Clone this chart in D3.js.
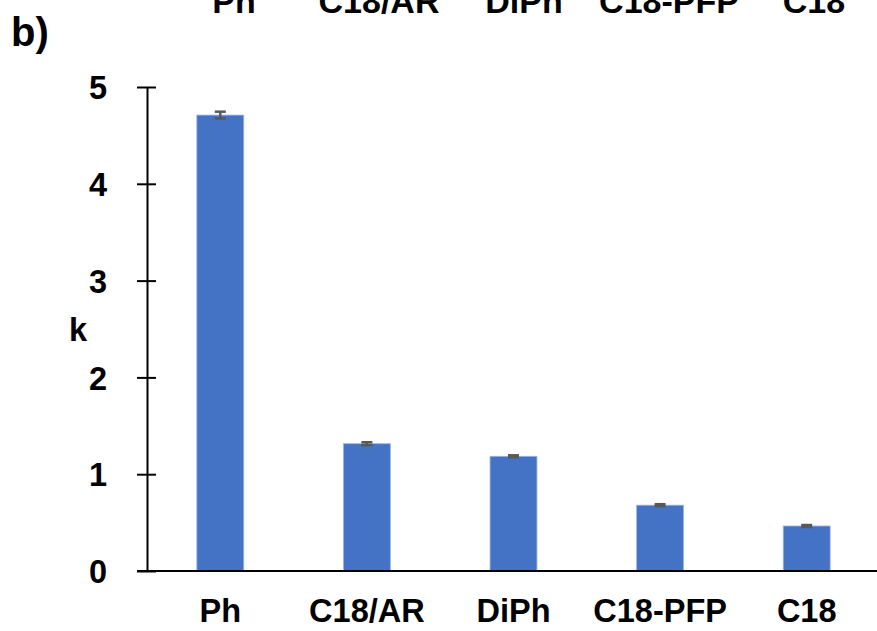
<!DOCTYPE html>
<html><head><meta charset="utf-8">
<script src="https://cdn.jsdelivr.net/npm/d3@7"></script>
<style>body{margin:0;background:#fff}svg{display:block}text{font-family:"Liberation Sans",Arial,sans-serif;font-weight:bold;fill:#000}</style>
</head><body>
<svg id="c" width="877" height="631"></svg>
<script>
const categories = ["Ph", "C18/AR", "DiPh", "C18-PFP", "C18"];
const values = [4.71, 1.315, 1.185, 0.68, 0.465];
const errors = [0.035, 0.015, 0.01, 0.01, 0.01];
const yTicks = [0, 1, 2, 3, 4, 5];

const svg = d3.select("#c");
const x = d3.scaleBand().domain(categories).range([147, 880]).paddingInner(0.68).paddingOuter(0.34);
const y = d3.scaleLinear().domain([0, 5]).range([571, 87]);
const xTop = d3.scaleBand().domain(categories).range([161.5, 886.5]);

// cropped labels of the panel above
svg.append("g").selectAll("text").data(categories).join("text")
  .attr("x", d => xTop(d) + xTop.bandwidth() / 2).attr("y", 13)
  .attr("text-anchor", "middle").attr("font-size", 34).text(d => d);

svg.append("text").attr("x", 11).attr("y", 46).attr("font-size", 40).text("b)");

// bars
svg.append("g").selectAll("rect").data(categories).join("rect")
  .attr("x", d => x(d)).attr("width", x.bandwidth())
  .attr("y", (d, i) => y(values[i])).attr("height", (d, i) => y(0) - y(values[i]))
  .attr("fill", "#4472C4").attr("stroke", "#9db5e3").attr("stroke-width", 0.8);

// error bars
const eg = svg.append("g").attr("stroke", "#595959").attr("stroke-width", 2.5);
categories.forEach((d, i) => {
  const cx = x(d) + x.bandwidth() / 2;
  eg.append("line").attr("x1", cx).attr("x2", cx).attr("y1", y(values[i] - errors[i])).attr("y2", y(values[i] + errors[i]));
  [values[i] - errors[i], values[i] + errors[i]].forEach(v =>
    eg.append("line").attr("x1", cx - 5.5).attr("x2", cx + 5.5).attr("y1", y(v)).attr("y2", y(v)));
});

// y axis
const ya = svg.append("g").attr("transform", "translate(147,0)")
  .call(d3.axisLeft(y).tickValues(yTicks).tickFormat(d3.format("d")).tickSizeInner(10).tickSizeOuter(0).tickPadding(30));
ya.select(".domain").attr("stroke", "#000").attr("stroke-width", 2);
ya.selectAll(".tick line").attr("x2", 9).attr("x1", -10).attr("stroke", "#000").attr("stroke-width", 2);
ya.selectAll(".tick text").attr("font-size", 32.5).attr("fill", "#000").attr("dy", "0.36em");
ya.attr("font-family", null);

// x axis
const xa = svg.append("g").attr("transform", "translate(0,571)")
  .call(d3.axisBottom(x).tickSize(0).tickPadding(28));
xa.select(".domain").attr("d", "M137,0H877").attr("stroke", "#000").attr("stroke-width", 2);
xa.selectAll(".tick text").attr("font-size", 32.5).attr("fill", "#000").attr("dy", "0.71em");
xa.attr("font-family", null);

svg.append("text").attr("x", 78).attr("y", 341).attr("text-anchor", "middle").attr("font-size", 32.5).text("k");
</script>
</body></html>
